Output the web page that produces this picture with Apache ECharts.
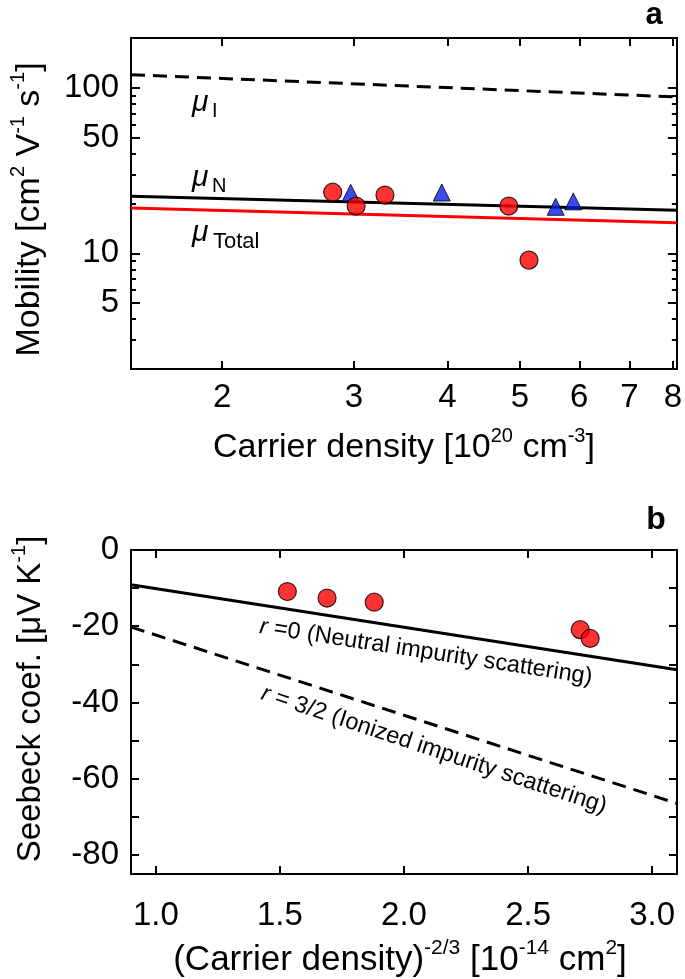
<!DOCTYPE html>
<html><head><meta charset="utf-8">
<script src="https://cdn.jsdelivr.net/npm/echarts@6/dist/echarts.min.js"></script>
<style>html,body{margin:0;padding:0;background:#fff}#c{width:685px;height:979px}</style>
</head><body><div id="c"></div>
<script>
// ---------- Panel a : mobility vs carrier density (log-log) ----------
const densityRange = [1.511, 8.1];            // 10^20 cm^-3
const densityTicks = [2, 3, 4, 5, 6, 7, 8];
const mobilityRange = [2, 200];               // cm2 V-1 s-1
const mobilityMajorTicks = [5, 10, 50, 100];
const mobilityMinorTicks = [3, 4, 6, 7, 8, 9, 20, 30, 40, 60, 70, 80, 90];
const circleDensity = [2.81, 3.02, 3.30, 4.83, 5.14];
const circleMobility = [23.4, 19.3, 22.5, 19.3, 9.1];
const triangleDensity = [2.97, 3.93, 5.58, 5.89];
const triangleMobility = [23.2, 23.3, 19.1, 20.6];
const modelDensity = [1.511, 8.1];
const muIonized = [120, 88];
const muNeutral = [22.1, 18.2];
const muTotal = [18.8, 15.3];

// ---------- Panel b : Seebeck vs n^-2/3 ----------
const nPowRange = [0.9, 3.1];
const nPowTicks = [1.0, 1.5, 2.0, 2.5, 3.0];
const seebeckRange = [-85, 0];
const seebeckTicks = [-80, -70, -60, -50, -40, -30, -20, -10, 0];
const seebeckLabels = [-80, -60, -40, -20, 0];
const pointNPow = [1.53, 1.69, 1.88, 2.71, 2.75];
const pointSeebeck = [-10.9, -12.6, -13.7, -20.9, -23.2];
const modelNPow = [0.9, 3.1];
const seebeckNeutral = [-9.1, -31.4];
const seebeckIonized = [-20.2, -66.5];

const FONT = 'Liberation Sans';
const L = v => Math.log10(v);
const BLACK = '#000';

const chart = echarts.init(document.getElementById('c'), null, {renderer: 'canvas'});

function tickStyle(len, vals) {
  return {show: true, inside: true, length: len, lineStyle: {color: BLACK, width: 2}, customValues: vals};
}
function baseAxis(o) {
  return Object.assign({
    type: 'value',
    splitLine: {show: false},
    axisLine: {show: true, onZero: false, lineStyle: {color: BLACK, width: 2}},
    axisLabel: {show: false},
    silent: true
  }, o);
}
function labelStyle(extra) {
  return Object.assign({show: true, color: BLACK, fontSize: 33, fontFamily: FONT}, extra);
}
function makeRich(main, sup) {
  return {
    m: {fontSize: main, fontFamily: FONT, color: BLACK, lineHeight: main + 5, verticalAlign: 'bottom'},
    s: {fontSize: sup, fontFamily: FONT, color: BLACK, lineHeight: sup + 8, verticalAlign: 'top'}
  };
}

const logX = densityTicks.map(L);
const xAxes = [
  baseAxis({gridIndex: 0, position: 'bottom', min: L(densityRange[0]), max: L(densityRange[1]),
    axisTick: tickStyle(8, logX),
    axisLabel: labelStyle({customValues: logX, margin: 12, formatter: v => String(Math.round(Math.pow(10, v)))}),
    name: '{m|Carrier density [10}{s|20}{m| cm}{s|-3}{m|]}', nameLocation: 'middle', nameGap: 57,
    nameTextStyle: {rich: makeRich(34, 20)}}),
  baseAxis({gridIndex: 0, position: 'top', min: L(densityRange[0]), max: L(densityRange[1]),
    axisTick: tickStyle(8, logX)}),
  baseAxis({gridIndex: 1, position: 'bottom', min: nPowRange[0], max: nPowRange[1],
    axisTick: tickStyle(8, nPowTicks),
    axisLabel: labelStyle({customValues: nPowTicks, margin: 25, formatter: v => v.toFixed(1)}),
    name: '{m|(Carrier density)}{s|-2/3}{m| [10}{s|-14}{m| cm}{s|2}{m|]}', nameLocation: 'middle', nameGap: 64,
    nameTextStyle: {rich: makeRich(35, 21), padding: [0, 8, 0, 0]}}),
  baseAxis({gridIndex: 1, position: 'top', min: nPowRange[0], max: nPowRange[1],
    axisTick: tickStyle(8, nPowTicks)})
];

const logYMajor = mobilityMajorTicks.map(L);
const logYMinor = mobilityMinorTicks.map(L);
const yAxes = [
  baseAxis({gridIndex: 0, position: 'left', min: L(mobilityRange[0]), max: L(mobilityRange[1]),
    axisTick: tickStyle(9, logYMajor),
    axisLabel: labelStyle({customValues: logYMajor, margin: 12, formatter: v => String(Math.round(Math.pow(10, v)))}),
    name: '{m|Mobility [cm}{s|2}{m| V}{s|-1}{m| s}{s|-1}{m|]}', nameLocation: 'middle', nameGap: 84,
    nameTextStyle: {rich: makeRich(34, 20), padding: [0, 12, 0, 0]}}),
  baseAxis({gridIndex: 0, position: 'left', min: L(mobilityRange[0]), max: L(mobilityRange[1]),
    axisTick: tickStyle(5, logYMinor)}),
  baseAxis({gridIndex: 0, position: 'right', min: L(mobilityRange[0]), max: L(mobilityRange[1]),
    axisTick: tickStyle(9, logYMajor)}),
  baseAxis({gridIndex: 0, position: 'right', min: L(mobilityRange[0]), max: L(mobilityRange[1]),
    axisTick: tickStyle(5, logYMinor)}),
  baseAxis({gridIndex: 1, position: 'left', min: seebeckRange[0], max: seebeckRange[1],
    axisTick: tickStyle(8, seebeckTicks),
    axisLabel: labelStyle({customValues: seebeckLabels, margin: 12}),
    name: '{m|Seebeck coef. [μV K}{s|-1}{m|]}', nameLocation: 'middle', nameGap: 84,
    nameTextStyle: {rich: makeRich(33, 20), padding: [0, 0, 0, 26]}}),
  baseAxis({gridIndex: 1, position: 'right', min: seebeckRange[0], max: seebeckRange[1],
    axisTick: tickStyle(8, seebeckTicks)})
];

const pairLog = (xs, ys) => xs.map((x, i) => [L(x), L(ys[i])]);
const pair = (xs, ys) => xs.map((x, i) => [x, ys[i]]);
const lineSeries = (data, xi, yi, color, type) => ({
  type: 'line', xAxisIndex: xi, yAxisIndex: yi, data, symbol: 'none', silent: true,
  lineStyle: {color, width: 3, type}, z: 2, animation: false
});

const series = [
  lineSeries(pairLog(modelDensity, muIonized), 0, 0, BLACK, [14, 8]),
  lineSeries(pairLog(modelDensity, muNeutral), 0, 0, BLACK, 'solid'),
  lineSeries(pairLog(modelDensity, muTotal), 0, 0, '#ff0000', 'solid'),
  {type: 'scatter', xAxisIndex: 0, yAxisIndex: 0, data: pairLog(triangleDensity, triangleMobility),
    symbol: 'triangle', symbolSize: 17, z: 3,
    itemStyle: {color: '#0a1ee6', borderColor: BLACK, borderWidth: 1}},
  {type: 'scatter', xAxisIndex: 0, yAxisIndex: 0, data: pairLog(circleDensity, circleMobility),
    symbol: 'circle', symbolSize: 18, z: 4,
    itemStyle: {color: '#ff0000', borderColor: BLACK, borderWidth: 1.2}},
  lineSeries(pair(modelNPow, seebeckNeutral), 2, 4, BLACK, 'solid'),
  lineSeries(pair(modelNPow, seebeckIonized), 2, 4, BLACK, [14, 8]),
  {type: 'scatter', xAxisIndex: 2, yAxisIndex: 4, data: pair(pointNPow, pointSeebeck),
    symbol: 'circle', symbolSize: 18, z: 4,
    itemStyle: {color: '#ff0000', borderColor: BLACK, borderWidth: 1.2}}
];

function txt(x, y, text, opt) {
  return {type: 'text', x, y, silent: true, z: 10, rotation: (opt && opt.rotation) || 0,
    style: Object.assign({text, fill: BLACK, fontFamily: FONT, fontSize: 30, align: 'left', verticalAlign: 'middle'}, opt && opt.style)};
}
const annRich = {
  i: {fontStyle: 'italic', fontSize: 23.5, fontFamily: FONT, fill: BLACK},
  n: {fontSize: 23.5, fontFamily: FONT, fill: BLACK}
};

const graphics = [
  txt(654, 15, 'a', {style: {fontWeight: 'bold', fontSize: 31, align: 'center'}}),
  txt(656, 520, 'b', {style: {fontWeight: 'bold', fontSize: 32, align: 'center'}}),
  txt(192, 103, 'μ', {style: {fontStyle: 'italic'}}),
  txt(212, 111, 'I', {style: {fontSize: 20}}),
  txt(192, 178, 'μ', {style: {fontStyle: 'italic'}}),
  txt(212, 186, 'N', {style: {fontSize: 20}}),
  txt(192, 233, 'μ', {style: {fontStyle: 'italic'}}),
  txt(213, 242, 'Total', {style: {fontSize: 22}}),
  txt(426, 652, '{i|r}{n| =0 (Neutral impurity scattering)}', {rotation: -0.152,
    style: {align: 'center', rich: annRich, fontSize: 23.5}}),
  txt(434, 750, '{i|r}{n| = 3/2 (Ionized impurity scattering)}', {rotation: -0.321,
    style: {align: 'center', rich: annRich, fontSize: 23.5}})
];

chart.setOption({
  animation: false,
  backgroundColor: '#fff',
  grid: [
    {left: 131, top: 38, width: 546, height: 331, containLabel: false},
    {left: 131, top: 550, width: 546, height: 331, containLabel: false}
  ],
  xAxis: xAxes,
  yAxis: yAxes,
  series,
  graphic: graphics
});
</script></body></html>
